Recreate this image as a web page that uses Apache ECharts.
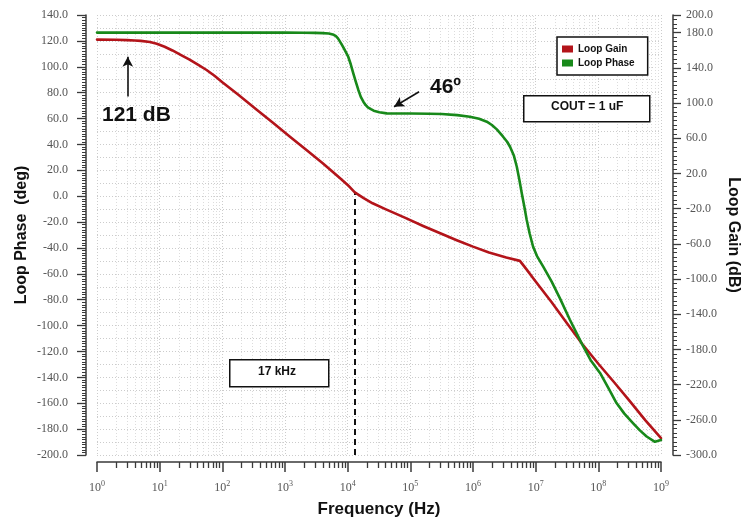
<!DOCTYPE html>
<html>
<head>
<meta charset="utf-8">
<script src="https://cdn.jsdelivr.net/npm/echarts@6/dist/echarts.min.js"></script>
<style>
  html, body { margin: 0; padding: 0; background: #ffffff; }
  #chart { width: 745px; height: 519px; }
</style>
</head>
<body>
<div id="chart"></div>
<script>
// Loop gain (dB) versus frequency (Hz)
const gainFreq = [1, 2, 3, 4, 5, 7, 9, 12, 16, 22, 30, 42, 56, 75, 100, 180, 350, 650, 1200, 2200,
  4000, 7500, 10000, 13000, 18000, 25000, 40000, 85000, 160000, 300000, 550000, 1e6, 1.8e6, 3.4e6,
  5.6e6, 7e6, 1e7, 1.8e7, 3.2e7, 5.5e7, 1e8, 1.8e8, 3.2e8, 5.6e8, 1e9];
const gainDb = [121, 120.9, 120.6, 120.3, 120.0, 119.2, 117.8, 115.5, 112.6, 109, 105.5, 101.3, 97.5,
  93, 88, 78.3, 67, 56.5, 46, 35.7, 25.5, 14, 8.7, 3, -1.5, -5.5, -10, -17, -23, -28.7, -34, -39,
  -43.5, -47.3, -50, -56, -66, -82, -98.5, -114, -129.5, -144, -158.6, -173, -187];

// Loop phase (deg) versus frequency (Hz)
const phaseFreq = [1, 1000, 2000, 3000, 4000, 5000, 6000, 6500, 7000, 7500, 8100, 8700, 9400, 10200,
  11200, 12300, 13500, 14800, 16200, 17800, 19300, 21000, 23500, 26000, 32000, 42000, 60000, 100000,
  200000, 316000, 560000, 890000, 1.25e6, 1.66e6, 2.0e6, 2.4e6, 3.0e6, 3.5e6, 3.9e6, 4.5e6, 5.0e6,
  5.5e6, 6.0e6, 6.6e6, 7.2e6, 8.0e6, 9.1e6, 1.05e7, 1.32e7, 1.8e7, 2.44e7, 3.5e7, 5.5e7, 7.5e7,
  1.07e8, 1.45e8, 1.95e8, 2.6e8, 3.6e8, 4.6e8, 5.9e8, 8e8, 1e9];
const phaseDeg = [180, 180, 179.9, 179.7, 179.4, 179, 177.5, 176, 173.5, 170, 166, 162, 157.5, 152.6,
  144, 133.7, 124, 114.8, 107, 101.5, 97.8, 95, 93, 91.3, 89.5, 88.2, 88, 88,
  87.8, 87.5, 86.2, 84.4, 82, 78.8, 75, 70, 62, 56, 50.3, 40, 27.6,
  12.5, -2.6, -18, -33, -48, -63.3, -74, -86, -103, -122, -146, -174, -192,
  -207, -224, -241, -253, -264, -272, -279, -285, -283];

// Axis ranges and tick steps
const freqRange = [1, 1e9];
const leftRange = [-200, 140];
const leftStep = 20;
const leftGridStep = 10;
const rightRange = [-300, 200];
const rightStep = 40;

// Crossover marker and annotations
const crossoverFreq = 13000;
const crossoverGain = 3;
const dcGainArrow = { freq: 3.1, from: 77, to: 107.8 };
const marginArrow = { from: [1.38e5, 112.8], to: [5.5e4, 95.8] };

const RED = '#B3141A';
const GREEN = '#18891A';
const AXIS = '#3a3a3a';
const LABEL_FONT = 'Liberation Serif';
const TITLE_FONT = 'Liberation Sans';

// log-spaced minor positions 2..9 in every decade
const minorFreqs = [];
for (let d = 0; d < 9; d++) {
  for (let m = 2; m <= 9; m++) minorFreqs.push([m * Math.pow(10, d), leftRange[0]]);
}

const chart = echarts.init(document.getElementById('chart'), null, { renderer: 'canvas' });

const axisLabelStyle = { color: '#555', fontFamily: LABEL_FONT, fontSize: 12 };
const titleStyle = { color: '#111', fontFamily: TITLE_FONT, fontWeight: 'bold', fontSize: 16 };

chart.setOption({
  animation: false,
  backgroundColor: '#ffffff',
  grid: { left: 97, right: 84, top: 15, bottom: 64, containLabel: false, outerBoundsMode: 'none' },
  legend: {
    data: ['Loop Gain', 'Loop Phase'],
    orient: 'vertical',
    left: 557, top: 37, z: 20,
    icon: 'rect',
    itemWidth: 11, itemHeight: 7, itemGap: 4,
    padding: [7, 13, 7, 5],
    backgroundColor: '#ffffff',
    borderColor: '#111', borderWidth: 1.5,
    textStyle: { fontFamily: TITLE_FONT, fontWeight: 'bold', fontSize: 10, color: '#111' }
  },
  xAxis: {
    type: 'log', logBase: 10, min: freqRange[0], max: freqRange[1],
    offset: 7,
    axisLine: { show: true, onZero: false, lineStyle: { color: AXIS, width: 1.5 } },
    axisTick: { show: true, inside: false, length: 10, lineStyle: { color: AXIS, width: 1.5 } },
    minorTick: { show: false },
    axisLabel: {
      margin: 18,
      formatter: v => '{b|10}{s|' + Math.round(Math.log10(v)) + '}',
      rich: {
        b: { color: '#555', fontFamily: LABEL_FONT, fontSize: 12 },
        s: { color: '#555', fontFamily: LABEL_FONT, fontSize: 8, padding: [0, 0, 8, 0] }
      }
    },
    splitLine: { show: true, lineStyle: { color: '#cccccc', width: 1, type: [1, 2] } },
    name: 'Frequency (Hz)', nameLocation: 'middle', nameGap: 39, nameMoveOverlap: false,
    nameTextStyle: Object.assign({}, titleStyle, { fontSize: 17 })
  },
  yAxis: [
    {
      type: 'value', position: 'left', min: leftRange[0], max: leftRange[1], interval: leftStep,
      offset: 11,
      axisLine: { show: true, onZero: false, lineStyle: { color: AXIS, width: 1.5 } },
      axisTick: { show: true, length: 9, lineStyle: { color: AXIS, width: 1.3 } },
      minorTick: { show: true, splitNumber: 10, length: 4, lineStyle: { color: AXIS, width: 1 } },
      axisLabel: Object.assign({ margin: 18, formatter: v => v.toFixed(1) }, axisLabelStyle),
      splitLine: { show: false },
      name: 'Loop Phase  (deg)', nameLocation: 'middle', nameGap: 56, nameMoveOverlap: false,
      nameTextStyle: titleStyle
    },
    {
      type: 'value', position: 'right', min: rightRange[0], max: rightRange[1], interval: rightStep,
      offset: 12,
      axisLine: { show: true, onZero: false, lineStyle: { color: AXIS, width: 1.5 } },
      axisTick: { show: true, length: 8, lineStyle: { color: AXIS, width: 1.3 } },
      minorTick: { show: true, splitNumber: 8, length: 4, lineStyle: { color: AXIS, width: 1 } },
      axisLabel: Object.assign({ margin: 13, formatter: v => v.toFixed(1) }, axisLabelStyle),
      splitLine: { show: false },
      name: 'Loop Gain (dB)', nameLocation: 'middle', nameGap: 52, nameRotate: -90,
      nameMoveOverlap: false,
      nameTextStyle: titleStyle
    },
    {
      // horizontal gridlines only
      type: 'value', position: 'left', min: leftRange[0], max: leftRange[1], interval: leftGridStep,
      axisLine: { show: false }, axisTick: { show: false }, axisLabel: { show: false },
      splitLine: { show: true, lineStyle: { color: '#cccccc', width: 1, type: [1, 2] } }
    }
  ],
  series: [
    {
      // minor vertical gridlines and minor ticks of the frequency axis
      type: 'custom', name: 'minor', silent: true, clip: false, z: 0,
      xAxisIndex: 0, yAxisIndex: 0,
      data: minorFreqs,
      renderItem: function (params, api) {
        const f = api.value(0);
        const bot = api.coord([f, leftRange[0]]);
        const top = api.coord([f, leftRange[1]]);
        const x = Math.round(bot[0]) + 0.5;
        return {
          type: 'group',
          children: [
            { type: 'line', shape: { x1: x, y1: bot[1], x2: x, y2: top[1] },
              style: { stroke: '#dcdcdc', lineWidth: 1, lineDash: [1, 2] } },
            { type: 'line', shape: { x1: x, y1: bot[1] + 7, x2: x, y2: bot[1] + 13 },
              style: { stroke: AXIS, lineWidth: 1.3 } }
          ]
        };
      }
    },
    {
      name: 'Loop Gain', type: 'line', yAxisIndex: 0, zlevel: 1, z: 10,
      data: gainFreq.map((f, i) => [f, gainDb[i]]),
      showSymbol: false, smooth: false,
      lineStyle: { color: RED, width: 2.6, join: 'round', cap: 'round' }, itemStyle: { color: RED },
      markLine: {
        silent: true, animation: false,
        label: { show: false },
        data: [
          [
            { coord: [crossoverFreq, leftRange[0]], symbol: 'none',
              lineStyle: { color: '#111', width: 2, type: [6, 4] } },
            { coord: [crossoverFreq, crossoverGain], symbol: 'none' }
          ],
          [
            { coord: [dcGainArrow.freq, dcGainArrow.from], symbol: 'none',
              lineStyle: { color: '#111', width: 1.6, type: 'solid' } },
            { coord: [dcGainArrow.freq, dcGainArrow.to], symbol: 'arrow', symbolSize: [8, 10] }
          ]
        ]
      }
    },
    {
      name: 'Loop Phase', type: 'line', yAxisIndex: 1, zlevel: 1, z: 10,
      data: phaseFreq.map((f, i) => [f, phaseDeg[i]]),
      showSymbol: false, smooth: false,
      lineStyle: { color: GREEN, width: 2.6, join: 'round', cap: 'round' }, itemStyle: { color: GREEN },
      markLine: {
        silent: true, animation: false,
        label: { show: false },
        data: [
          [
            { coord: marginArrow.from, symbol: 'none',
              lineStyle: { color: '#111', width: 1.6, type: 'solid' } },
            { coord: marginArrow.to, symbol: 'arrow', symbolSize: [8, 10] }
          ]
        ]
      }
    }
  ],
  graphic: [
    { type: 'text', left: 102, top: 105, z: 30,
      style: { text: '121 dB', fill: '#111', font: 'bold 21px "Liberation Sans"' } },
    { type: 'text', left: 430, top: 77, z: 30,
      style: { text: '46º', fill: '#111', font: 'bold 21px "Liberation Sans"' } },
    { type: 'rect', left: 523, top: 95, z: 30,
      shape: { x: 0, y: 0, width: 126, height: 26 },
      style: { fill: '#fff', stroke: '#111', lineWidth: 1.5 } },
    { type: 'text', left: 551, top: 101, z: 31,
      style: { text: 'COUT = 1 uF', fill: '#111', font: 'bold 12px "Liberation Sans"' } },
    { type: 'rect', left: 229, top: 359, z: 30,
      shape: { x: 0, y: 0, width: 99, height: 27 },
      style: { fill: '#fff', stroke: '#111', lineWidth: 1.5 } },
    { type: 'text', left: 258, top: 366, z: 31,
      style: { text: '17 kHz', fill: '#111', font: 'bold 12px "Liberation Sans"' } }
  ]
});
</script>
</body>
</html>
